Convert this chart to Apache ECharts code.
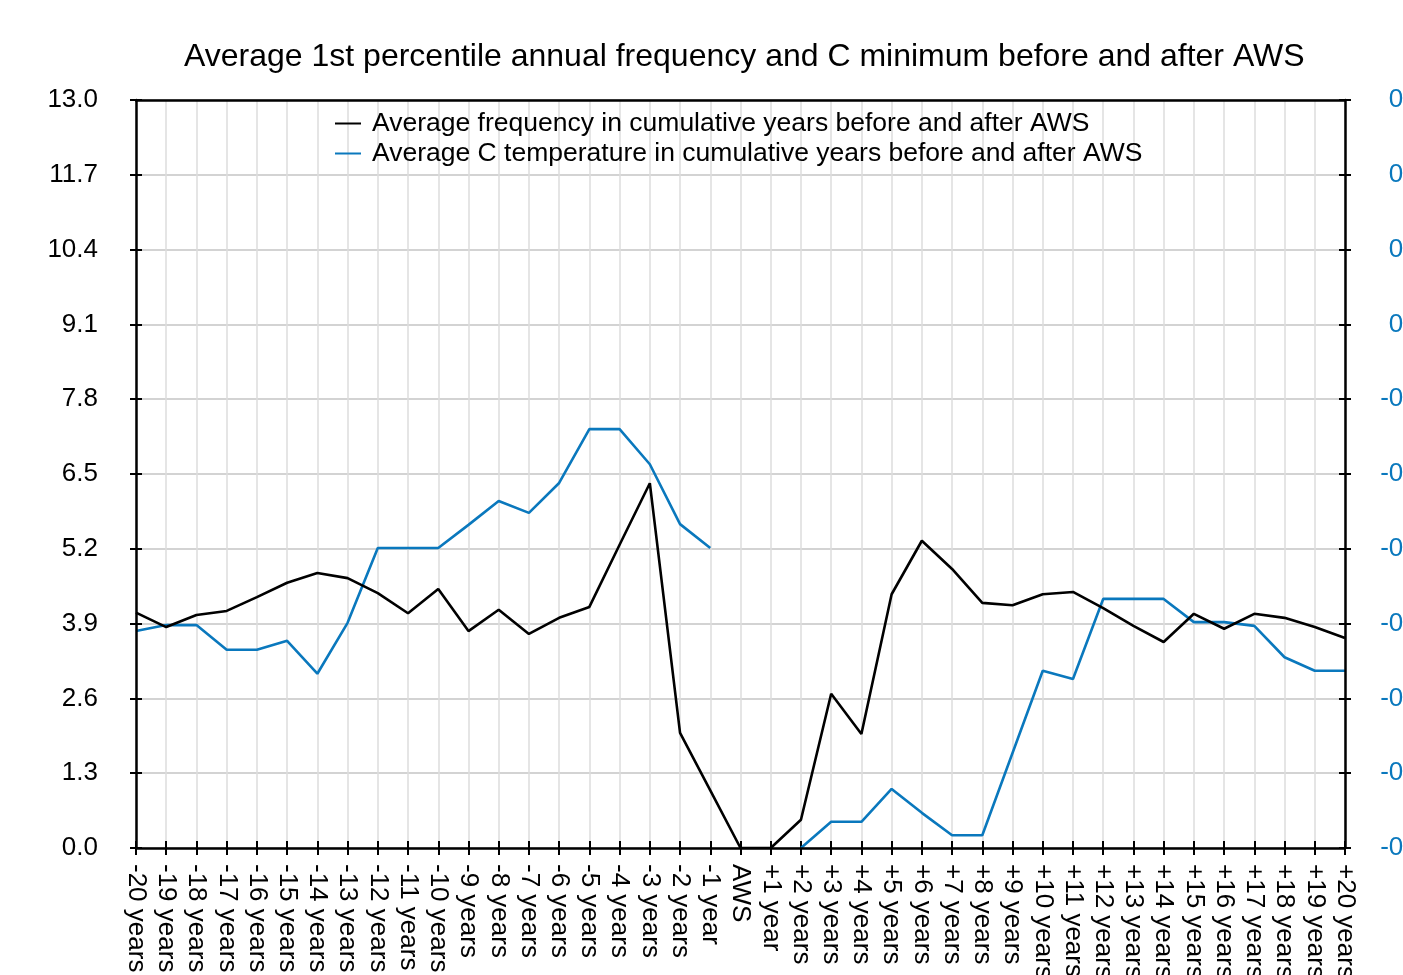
<!DOCTYPE html>
<html>
<head>
<meta charset="utf-8">
<script src="https://cdn.jsdelivr.net/npm/echarts@6/dist/echarts.min.js"></script>
<style>
  html, body { margin: 0; padding: 0; background: #fff; }
  #chart { width: 1403px; height: 975px; }
</style>
</head>
<body>
<div id="chart"></div>
<script>
// Years relative to the AWS installation
const categories = [
  '-20 years','-19 years','-18 years','-17 years','-16 years','-15 years','-14 years',
  '-13 years','-12 years','-11 years','-10 years','-9 years','-8 years','-7 years',
  '-6 years','-5 years','-4 years','-3 years','-2 years','-1 year','AWS',
  '+1 year','+2 years','+3 years','+4 years','+5 years','+6 years','+7 years',
  '+8 years','+9 years','+10 years','+11 years','+12 years','+13 years','+14 years',
  '+15 years','+16 years','+17 years','+18 years','+19 years','+20 years'
];

// Average annual frequency (left axis)
const frequency = [
  4.09, 3.84, 4.05, 4.12, 4.36, 4.61, 4.78, 4.69, 4.43, 4.08, 4.50,
  3.77, 4.14, 3.72, 4.00, 4.19, 5.27, 6.34, 2.00, 1.00, 0.00,
  0.00, 0.49, 2.68, 1.98, 4.41, 5.34, 4.85, 4.26, 4.22, 4.41,
  4.45, 4.17, 3.86, 3.58, 4.07, 3.81, 4.07, 4.00, 3.84, 3.65
];

// Average C temperature (right axis); no values for AWS and +1 year
const temperature = [
  -0.410, -0.402, -0.402, -0.435, -0.435, -0.423, -0.467, -0.399, -0.299, -0.299, -0.299,
  -0.268, -0.236, -0.252, -0.212, -0.140, -0.140, -0.187, -0.267, -0.299, null,
  null, -0.700, -0.665, -0.665, -0.621, -0.653, -0.683, -0.683, -0.573, -0.463,
  -0.474, -0.367, -0.367, -0.367, -0.398, -0.398, -0.403, -0.445, -0.463, -0.463
];

const leftTicks = { min: 0, max: 13, interval: 1.3 };
const rightTicks = { min: -0.7, max: 0.3, interval: 0.1 };

const FONT = "'Liberation Sans', Arial, sans-serif";
const BLUE = '#0a78bd';
const TICK = { color: '#000', width: 2 };

const chart = echarts.init(document.getElementById('chart'), null, { renderer: 'canvas' });

chart.setOption({
  animation: false,
  backgroundColor: '#fff',
  title: {
    text: 'Average 1st percentile annual frequency and C minimum before and after AWS',
    left: 179,
    top: 36,
    textStyle: { fontFamily: FONT, fontSize: 32, fontWeight: 'normal', color: '#000' }
  },
  legend: {
    orient: 'vertical',
    left: 330,
    top: 105,
    itemWidth: 26,
    itemHeight: 2,
    itemGap: 3,
    icon: 'rect',
    z: 6,
    textStyle: { fontFamily: FONT, fontSize: 26.5, color: '#000', padding: [0, 0, 0, 6] },
    data: [
      'Average frequency in cumulative years before and after AWS',
      'Average C temperature in cumulative years before and after AWS'
    ]
  },
  grid: {
    left: 136, right: 58, top: 100, bottom: 127,
    outerBoundsMode: 'none',
    containLabel: false,
    show: false
  },
  xAxis: [
    {
      // bottom axis: line, outward ticks, rotated labels
      type: 'category',
      data: categories,
      boundaryGap: false,
      axisLine: { onZero: false, lineStyle: { color: '#000', width: 2.5 } },
      axisTick: { show: true, interval: 0, length: 7, lineStyle: TICK },
      splitLine: { show: false },
      axisLabel: {
        interval: 0, rotate: -90, margin: 16,
        fontFamily: FONT, fontSize: 26, color: '#000'
      },
      z: 4
    },
    {
      // vertical grid lines and inward ticks, drawn beneath the series
      type: 'category',
      data: categories,
      boundaryGap: false,
      position: 'bottom',
      axisLine: { show: false, onZero: false },
      axisTick: { show: true, inside: true, interval: 0, length: 7, lineStyle: TICK },
      axisLabel: { show: false },
      splitLine: { show: true, interval: 0, lineStyle: { color: '#dcdcdc', width: 1.5 } },
      z: 0
    },
    {
      // plot frame along the top edge
      type: 'category',
      data: categories,
      boundaryGap: false,
      position: 'top',
      axisLine: { show: true, onZero: false, lineStyle: { color: '#000', width: 2.5 } },
      axisTick: { show: false },
      axisLabel: { show: false },
      splitLine: { show: false },
      z: 4
    }
  ],
  yAxis: [
    {
      type: 'value',
      position: 'left',
      min: leftTicks.min, max: leftTicks.max, interval: leftTicks.interval,
      axisLine: { show: true, onZero: false, lineStyle: { color: '#000', width: 2.5 } },
      axisTick: { show: true, length: 6, lineStyle: TICK },
      splitLine: { show: false },
      axisLabel: {
        margin: 38, fontFamily: FONT, fontSize: 26, color: '#000',
        formatter: v => v.toFixed(1)
      },
      z: 4
    },
    {
      type: 'value',
      position: 'right',
      min: rightTicks.min, max: rightTicks.max, interval: rightTicks.interval,
      axisLine: { show: true, onZero: false, lineStyle: { color: '#000', width: 2.5 } },
      axisTick: { show: true, length: 6, lineStyle: TICK },
      splitLine: { show: false },
      axisLabel: {
        margin: 80, align: 'right', fontFamily: FONT, fontSize: 26, color: BLUE,
        formatter: v => v.toFixed(1)
      },
      z: 4
    },
    {
      // horizontal grid lines and inward ticks on the left
      type: 'value',
      position: 'left',
      min: leftTicks.min, max: leftTicks.max, interval: leftTicks.interval,
      axisLine: { show: false, onZero: false },
      axisTick: { show: true, inside: true, length: 6, lineStyle: TICK },
      axisLabel: { show: false },
      splitLine: { show: true, lineStyle: { color: '#c4c4c4', width: 1.5 } },
      z: 0
    },
    {
      type: 'value',
      position: 'right',
      min: rightTicks.min, max: rightTicks.max, interval: rightTicks.interval,
      axisLine: { show: false, onZero: false },
      axisTick: { show: true, inside: true, length: 6, lineStyle: TICK },
      axisLabel: { show: false },
      splitLine: { show: false },
      z: 4
    }
  ],
  series: [
    {
      name: 'Average frequency in cumulative years before and after AWS',
      type: 'line',
      xAxisIndex: 0,
      yAxisIndex: 0,
      data: frequency,
      showSymbol: false,
      color: '#000',
      lineStyle: { color: '#000', width: 2.6 },
      z: 3
    },
    {
      name: 'Average C temperature in cumulative years before and after AWS',
      type: 'line',
      xAxisIndex: 0,
      yAxisIndex: 1,
      data: temperature,
      showSymbol: false,
      connectNulls: false,
      color: BLUE,
      lineStyle: { color: BLUE, width: 2.6 },
      z: 2
    }
  ]
});
</script>
</body>
</html>
